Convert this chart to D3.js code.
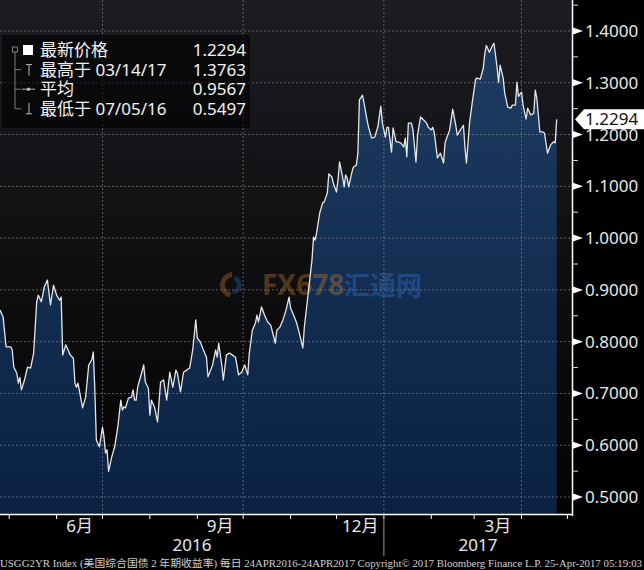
<!DOCTYPE html>
<html lang="zh">
<head>
  <meta charset="UTF-8">
  <title>USGG2YR Index</title>
  <script src="https://d3js.org/d3.v7.min.js"></script>
  <style>
    body { margin: 0; background: #000; }
    svg { display: block; }
    text { font-family: "Noto Sans", "Noto Sans CJK SC", sans-serif; }
  </style>
</head>
<body>
<svg width="644" height="570"></svg>

<script>
  // daily 2Y yield (one line per month)
  const dates = [
    "2016-04-25","2016-04-27","2016-04-29",
    "2016-05-02","2016-05-03","2016-05-04","2016-05-06","2016-05-07","2016-05-08","2016-05-09","2016-05-11","2016-05-13","2016-05-15","2016-05-17","2016-05-19","2016-05-20","2016-05-22","2016-05-24","2016-05-26","2016-05-28","2016-05-30",
    "2016-06-01","2016-06-03","2016-06-04","2016-06-05","2016-06-07","2016-06-10","2016-06-12","2016-06-13","2016-06-14","2016-06-15","2016-06-18","2016-06-20","2016-06-22","2016-06-24","2016-06-25","2016-06-26","2016-06-27","2016-06-29",
    "2016-07-01","2016-07-02","2016-07-03","2016-07-04","2016-07-05","2016-07-07","2016-07-09","2016-07-11","2016-07-13","2016-07-14","2016-07-15","2016-07-16","2016-07-18","2016-07-20","2016-07-21","2016-07-22","2016-07-23","2016-07-24","2016-07-28","2016-07-29","2016-07-31",
    "2016-08-01","2016-08-02","2016-08-04","2016-08-06","2016-08-08","2016-08-10","2016-08-12","2016-08-14","2016-08-16","2016-08-18","2016-08-19","2016-08-21","2016-08-23","2016-08-25","2016-08-27","2016-08-29","2016-08-31",
    "2016-09-01","2016-09-03","2016-09-05","2016-09-07","2016-09-08","2016-09-11","2016-09-13","2016-09-14","2016-09-15","2016-09-17","2016-09-18","2016-09-20","2016-09-22","2016-09-24","2016-09-26","2016-09-28","2016-09-30",
    "2016-10-02","2016-10-04","2016-10-05","2016-10-07","2016-10-09","2016-10-10","2016-10-11","2016-10-13","2016-10-15","2016-10-17","2016-10-19","2016-10-21","2016-10-22","2016-10-23","2016-10-25","2016-10-27","2016-10-29","2016-10-31",
    "2016-11-01","2016-11-03","2016-11-05","2016-11-07","2016-11-09","2016-11-10","2016-11-12","2016-11-15","2016-11-16","2016-11-17","2016-11-18","2016-11-20","2016-11-22","2016-11-23","2016-11-25","2016-11-26","2016-11-28","2016-11-29",
    "2016-12-01","2016-12-02","2016-12-03","2016-12-05","2016-12-06","2016-12-07","2016-12-08","2016-12-09","2016-12-11","2016-12-12","2016-12-14","2016-12-15","2016-12-16","2016-12-18","2016-12-19","2016-12-21","2016-12-22","2016-12-24","2016-12-26","2016-12-28","2016-12-30","2016-12-31",
    "2017-01-02","2017-01-03","2017-01-04","2017-01-06","2017-01-07","2017-01-09","2017-01-10","2017-01-12","2017-01-14","2017-01-15","2017-01-16","2017-01-17","2017-01-19","2017-01-20","2017-01-22","2017-01-23","2017-01-25","2017-01-27","2017-01-29","2017-01-30",
    "2017-02-01","2017-02-02","2017-02-03","2017-02-05","2017-02-07","2017-02-09","2017-02-10","2017-02-11","2017-02-13","2017-02-15","2017-02-17","2017-02-18","2017-02-20","2017-02-22","2017-02-23","2017-02-24","2017-02-26","2017-02-28",
    "2017-03-02","2017-03-03","2017-03-05","2017-03-07","2017-03-08","2017-03-09","2017-03-11","2017-03-13","2017-03-14","2017-03-16","2017-03-17","2017-03-18","2017-03-20","2017-03-21","2017-03-23","2017-03-25","2017-03-26","2017-03-28","2017-03-29","2017-03-30",
    "2017-04-01","2017-04-02","2017-04-04","2017-04-05","2017-04-07","2017-04-09","2017-04-10","2017-04-11","2017-04-13","2017-04-15","2017-04-16","2017-04-18","2017-04-20","2017-04-22","2017-04-23","2017-04-24"
  ];
  const yields = [
    0.861,0.848,0.790,
    0.790,0.784,0.751,0.739,0.720,0.731,0.707,0.726,0.751,0.749,0.778,0.877,0.890,0.877,0.906,0.919,0.871,0.909,
    0.890,0.880,0.886,0.774,0.794,0.774,0.768,0.720,0.712,0.720,0.672,0.693,0.755,0.765,0.780,0.707,0.610,0.597,
    0.635,0.616,0.585,0.591,0.5497,0.577,0.597,0.635,0.687,0.668,0.674,0.672,0.691,0.693,0.707,0.687,0.687,0.712,0.755,0.722,0.710,
    0.658,0.687,0.674,0.645,0.722,0.726,0.687,0.741,0.712,0.745,0.739,0.703,0.741,0.745,0.749,0.784,0.842,
    0.807,0.799,0.784,0.770,0.732,0.755,0.784,0.770,0.797,0.755,0.726,0.774,0.778,0.774,0.770,0.736,0.741,
    0.755,0.736,0.778,0.822,0.836,0.851,0.838,0.867,0.851,0.838,0.832,0.809,0.797,0.822,0.828,0.842,0.861,0.886,
    0.865,0.851,0.836,0.813,0.788,0.828,0.880,0.958,1.002,0.996,1.010,1.048,1.068,1.070,1.087,1.124,1.118,1.106,
    1.089,1.112,1.147,1.118,1.099,1.122,1.116,1.099,1.126,1.137,1.141,1.164,1.267,1.276,1.261,1.228,1.214,1.193,1.195,1.214,1.255,1.222,
    1.195,1.214,1.214,1.166,1.213,1.186,1.186,1.184,1.176,1.193,1.157,1.222,1.222,1.209,1.147,1.199,1.234,1.228,1.222,1.214,
    1.209,1.214,1.203,1.155,1.164,1.145,1.184,1.193,1.209,1.249,1.218,1.199,1.209,1.218,1.176,1.145,1.222,1.267,
    1.307,1.309,1.307,1.328,1.357,1.372,1.359,1.372,1.3763,1.330,1.301,1.334,1.309,1.280,1.253,1.251,1.257,1.257,1.301,1.274,
    1.282,1.257,1.230,1.251,1.238,1.241,1.286,1.270,1.205,1.205,1.203,1.164,1.180,1.186,1.184,1.2294
  ];

  const yTicks = [0.5, 0.6, 0.7, 0.8, 0.9, 1.0, 1.1, 1.2, 1.3, 1.4];
  const monthLabels = ["6月", "9月", "12月", "3月"];
  const monthLabelMonths = ["2016-06-01", "2016-09-01", "2016-12-01", "2017-03-01"];
  const years = ["2016", "2017"];
  const legendNames = ["最新价格", "最高于 03/14/17", "平均", "最低于 07/05/16"];
  const legendValues = ["1.2294", "1.3763", "0.9567", "0.5497"];
  const lastValue = 1.2294;
  const footer = "USGG2YR Index (美国综合国债 2 年期收益率)  每日 24APR2016-24APR2017 Copyright© 2017 Bloomberg Finance L.P.  25-Apr-2017 05:19:03";

  const svg = d3.select("svg");
  const width = 644, height = 570;
  const plotW = 572, plotH = 514;

  const parse = d3.timeParse("%Y-%m-%d");
  const data = dates.map((d, i) => ({ date: parse(d), value: yields[i] }));

  const x = d3.scaleTime()
    .domain([parse("2016-04-25"), parse("2017-05-04")])
    .range([0, plotW]);
  const y = d3.scaleLinear().domain([0.5, 1.4]).range([497, 31]);

  svg.append("rect").attr("width", width).attr("height", height).attr("fill", "#000");

  const defs = svg.append("defs");
  const bg = defs.append("linearGradient").attr("id", "bg")
    .attr("gradientUnits", "userSpaceOnUse").attr("x1", 0).attr("y1", 0).attr("x2", 0).attr("y2", plotH);
  bg.append("stop").attr("offset", 0).attr("stop-color", "#1c1c21");
  bg.append("stop").attr("offset", 1).attr("stop-color", "#030303");
  const fillGrad = defs.append("linearGradient").attr("id", "fillGrad")
    .attr("gradientUnits", "userSpaceOnUse").attr("x1", 0).attr("y1", 0).attr("x2", 0).attr("y2", plotH);
  fillGrad.append("stop").attr("offset", 0).attr("stop-color", "#1f3e64");
  fillGrad.append("stop").attr("offset", 1).attr("stop-color", "#0a2142");

  svg.append("rect").attr("width", plotW).attr("height", plotH).attr("fill", "url(#bg)");

  // area under the line
  const area = d3.area().x(d => x(d.date)).y0(plotH).y1(d => y(d.value));
  svg.append("path").datum(data).attr("d", area).attr("fill", "url(#fillGrad)");

  // grid
  svg.append("g").selectAll("line").data(yTicks).join("line")
    .attr("x1", 0).attr("x2", plotW)
    .attr("y1", d => y(d)).attr("y2", d => y(d))
    .attr("stroke", "#8a8a8a").attr("stroke-width", 0.8).attr("stroke-dasharray", "2,2").attr("opacity", 0.8);
  svg.append("g").selectAll("line").data(x.ticks(d3.timeMonth.every(3))).join("line")
    .attr("x1", d => x(d)).attr("x2", d => x(d))
    .attr("y1", 0).attr("y2", plotH)
    .attr("stroke", "#8a8a8a").attr("stroke-width", 0.8).attr("stroke-dasharray", "2,2").attr("opacity", 0.8);

  // watermark
  const wm = svg.append("g").attr("opacity", 0.35);
  wm.append("path").attr("d", d3.arc()({ innerRadius: 8, outerRadius: 13, startAngle: 3.4, endAngle: 6.2 }))
    .attr("transform", "translate(233,285)").attr("fill", "#d0762c");
  wm.append("path").attr("d", d3.arc()({ innerRadius: 4, outerRadius: 9, startAngle: 0.2, endAngle: 3.2 }))
    .attr("transform", "translate(233,285)").attr("fill", "#2e64b0");
  wm.append("text").attr("x", 262).attr("y", 295).attr("font-size", 28).attr("font-weight", "bold")
    .attr("fill", "#d0822e").text("FX678");
  wm.append("text").attr("x", 344).attr("y", 295).attr("font-size", 26).attr("font-weight", "bold")
    .attr("fill", "#3b7ad4").style("font-family", "'Noto Sans CJK SC'").text("汇通网");

  // price line
  const line = d3.line().x(d => x(d.date)).y(d => y(d.value));
  svg.append("path").datum(data).attr("d", line)
    .attr("fill", "none").attr("stroke", "#e6e6e6").attr("stroke-width", 1.3).attr("stroke-linejoin", "round");

  // right axis
  svg.append("line").attr("x1", plotW + 0.5).attr("x2", plotW + 0.5).attr("y1", 0).attr("y2", plotH + 2)
    .attr("stroke", "#fff").attr("stroke-width", 1.5);
  const minor = d3.range(0.45, 1.5, 0.1).filter(v => y(v) > 0 && y(v) < plotH);
  svg.append("g").selectAll("line").data(minor).join("line")
    .attr("x1", plotW + 1).attr("x2", plotW + 6)
    .attr("y1", d => y(d)).attr("y2", d => y(d))
    .attr("stroke", "#ddd").attr("stroke-width", 1);
  svg.append("g").selectAll("path").data(yTicks).join("path")
    .attr("d", d => `M${plotW + 1},${y(d) - 3.5}L${plotW + 11},${y(d)}L${plotW + 1},${y(d) + 3.5}Z`)
    .attr("fill", "#fff");
  svg.append("g").selectAll("text").data(yTicks).join("text")
    .attr("x", plotW + 13).attr("y", d => y(d)).attr("dy", "0.35em")
    .attr("font-size", 17).attr("fill", "#e8e8e8")
    .text(d => d3.format(".4f")(d));

  // last value flag
  const yl = y(lastValue);
  svg.append("path")
    .attr("d", `M${plotW + 3},${yl}L${plotW + 12},${yl - 10}L${width},${yl - 10}L${width},${yl + 10}L${plotW + 12},${yl + 10}Z`)
    .attr("fill", "#fff");
  svg.append("text").attr("x", plotW + 13).attr("y", yl).attr("dy", "0.35em")
    .attr("font-size", 17).attr("fill", "#111").text(d3.format(".4f")(lastValue));

  // bottom axis
  svg.append("line").attr("x1", 0).attr("x2", plotW + 1).attr("y1", plotH + 0.5).attr("y2", plotH + 0.5)
    .attr("stroke", "#fff").attr("stroke-width", 1.5);
  svg.append("g").selectAll("line").data(x.ticks(d3.timeMonth.every(1))).join("line")
    .attr("x1", d => x(d)).attr("x2", d => x(d))
    .attr("y1", plotH).attr("y2", plotH + 5)
    .attr("stroke", "#fff").attr("stroke-width", 1);
  svg.append("g").selectAll("text").data(monthLabelMonths).join("text")
    .attr("x", d => {
      const m = parse(d);
      return (x(m) + x(d3.timeMonth.offset(m, 1))) / 2;
    })
    .attr("y", 526).attr("dy", "0.35em").attr("text-anchor", "middle")
    .attr("font-size", 17).attr("fill", "#e8e8e8")
    .text((d, i) => monthLabels[i]);

  const yearStart = x(parse("2017-01-01"));
  const yearCenters = [(0 + yearStart) / 2, (yearStart + plotW) / 2];
  svg.append("g").selectAll("text").data(years).join("text")
    .attr("x", (d, i) => yearCenters[i]).attr("y", 545).attr("dy", "0.35em").attr("text-anchor", "middle")
    .attr("font-size", 17).attr("fill", "#e8e8e8").text(d => d);
  svg.append("line").attr("x1", yearStart).attr("x2", yearStart).attr("y1", plotH + 5).attr("y2", 556)
    .attr("stroke", "#999").attr("stroke-width", 1);

  // footer
  svg.append("text").attr("x", 0).attr("y", 563).attr("dy", "0.35em")
    .attr("font-size", 10.5).attr("fill", "#cfcfcf")
    .style("font-family", "'Liberation Serif', 'Noto Sans CJK SC', serif")
    .attr("textLength", 642).attr("lengthAdjust", "spacingAndGlyphs")
    .text(footer);

  // legend
  const lg = svg.append("g");
  lg.append("rect").attr("x", 2).attr("y", 35).attr("width", 248).attr("height", 93)
    .attr("fill", "#000").attr("opacity", 0.6);
  const rowY = i => 50 + i * 19.6;
  lg.append("rect").attr("x", 12.5).attr("y", rowY(0) - 3).attr("width", 5).attr("height", 5)
    .attr("fill", "none").attr("stroke", "#999").attr("stroke-width", 0.8);
  lg.append("line").attr("x1", 15).attr("x2", 15).attr("y1", rowY(0) + 2).attr("y2", rowY(3))
    .attr("stroke", "#999").attr("stroke-width", 0.8);
  lg.selectAll(".branch").data([1, 2, 3]).join("line")
    .attr("x1", 15).attr("x2", 21).attr("y1", d => rowY(d)).attr("y2", d => rowY(d))
    .attr("stroke", "#999").attr("stroke-width", 0.8);
  lg.append("rect").attr("x", 23).attr("y", rowY(0) - 5).attr("width", 10).attr("height", 10).attr("fill", "#fff");
  lg.append("path").attr("d", `M26,${rowY(1) - 5}H32M29,${rowY(1) - 5}V${rowY(1) + 6}`)
    .attr("stroke", "#bbb").attr("stroke-width", 1).attr("fill", "none");
  lg.append("path").attr("d", `M22,${rowY(2)}H35`).attr("stroke", "#bbb").attr("stroke-width", 1);
  lg.append("circle").attr("cx", 28.5).attr("cy", rowY(2)).attr("r", 1.8).attr("fill", "#bbb");
  lg.append("path").attr("d", `M29,${rowY(3) - 6}V${rowY(3) + 5}M26,${rowY(3) + 5}H32`)
    .attr("stroke", "#bbb").attr("stroke-width", 1).attr("fill", "none");
  lg.selectAll(".name").data(legendNames).join("text")
    .attr("x", 40).attr("y", (d, i) => rowY(i)).attr("dy", "0.36em")
    .attr("font-size", 17).attr("fill", "#f2f2f2").text(d => d);
  lg.selectAll(".val").data(legendValues).join("text")
    .attr("x", 246).attr("y", (d, i) => rowY(i)).attr("dy", "0.36em").attr("text-anchor", "end")
    .attr("font-size", 17).attr("fill", "#f2f2f2").text(d => d);
</script>
</body>
</html>
